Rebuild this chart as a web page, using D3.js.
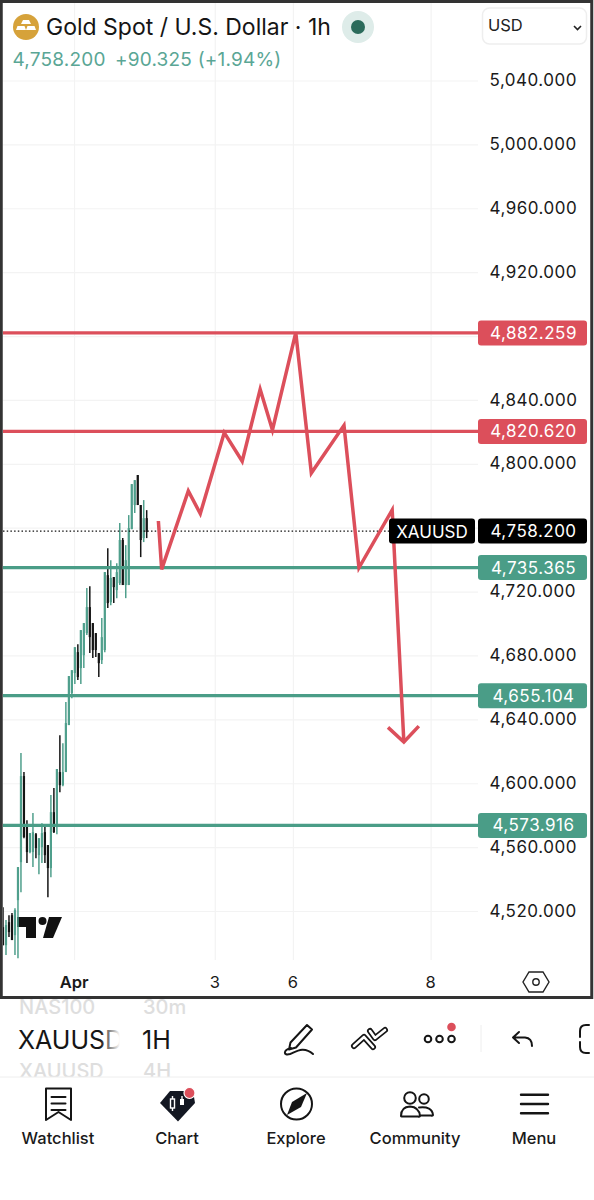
<!DOCTYPE html>
<html><head><meta charset="utf-8">
<script src="https://cdn.jsdelivr.net/npm/d3@7"></script>
<style>html,body{margin:0;background:#fff}svg{display:block}text{font-family:Inter,"Noto Sans",sans-serif}</style>
</head><body><div id="c"></div>
<script>
const opens=[4510.2,4498.9,4513.3,4517.7,4505.2,4527.1,4550.9,4604.8,4574.1,4557.2,4557.2,4568.4,4555.3,4560.3,4569.7,4561.6,4547.2,4582.2,4574.1,4607.3,4599.1,4607.3,4636.7,4656.7,4669.3,4682.4,4672.4,4680.5,4694.3,4710.6,4700.6,4694.3,4681.8,4677.4,4683.7,4730.6,4713.7,4729.4,4721.2,4725.6,4752.6,4724.4,4724.4,4759.4,4774.5,4793.3,4774.5,4753.8,4766.3];
const highs=[4522.7,4514.6,4517.7,4519.0,4522.1,4547.8,4619.2,4607.3,4577.2,4569.1,4581.6,4569.1,4565.9,4575.3,4573.5,4561.6,4592.9,4597.3,4609.2,4630.4,4625.4,4651.1,4667.4,4671.1,4685.5,4687.4,4696.2,4700.6,4722.5,4723.7,4700.6,4694.3,4681.8,4703.7,4732.5,4747.5,4740.0,4729.4,4738.1,4763.2,4753.8,4749.4,4768.2,4787.6,4790.1,4793.3,4774.5,4777.6,4771.3];
const lows=[4498.9,4492.7,4504.0,4502.1,4492.7,4490.8,4532.1,4565.9,4550.3,4556.5,4547.8,4553.4,4543.4,4550.3,4550.3,4529.0,4541.5,4569.1,4568.4,4594.7,4598.5,4607.3,4636.7,4653.6,4662.4,4664.9,4662.4,4672.4,4693.1,4681.8,4678.7,4679.3,4666.8,4674.9,4682.4,4710.0,4711.8,4713.1,4716.2,4724.4,4724.4,4716.2,4724.4,4759.4,4769.5,4774.5,4741.9,4751.3,4753.8];
const closes=[4498.9,4511.5,4507.1,4502.1,4520.9,4547.8,4604.8,4566.6,4557.2,4569.1,4569.7,4559.7,4565.9,4569.1,4555.3,4547.2,4582.2,4569.7,4609.2,4599.1,4607.3,4638.0,4667.4,4671.1,4685.5,4666.8,4696.2,4700.6,4710.6,4691.8,4683.7,4683.7,4675.5,4691.8,4732.5,4713.1,4728.8,4723.1,4732.5,4752.6,4724.4,4740.0,4760.1,4787.6,4790.1,4774.5,4752.6,4766.3,4757.6];
const priceTicks=[5040,5000,4960,4920,4880,4840,4800,4760,4720,4680,4640,4600,4560,4520];
const hiddenPriceLabels=[4880,4760];
const timeBars=[23.9,70.9,97,143];
const timeLabels=["Apr","3","6","8"];
const resistance=[4882.259,4820.62];
const support=[4735.365,4655.104,4573.916];
const lastPrice=4758.2;
const pathBars=[51.9,53,61.9,65.9,73.9,79.9,85.9,90,97.8,103,113.9,118.9,130,133.9];
const pathPrices=[4764.5,4734.2,4783.3,4769.1,4819.8,4801.9,4847,4821.5,4882.4,4794.5,4824.4,4735.2,4771.4,4626.1];
const arrowBars=[128.6,133.9,138.9];
const arrowPrices=[4635.3,4626.1,4636.1];
const navLabels=["Watchlist","Chart","Explore","Community","Menu"];

const GREEN="#4f9f8c",RED="#dc4f5b",TAG_GREEN="#4a9d87";
const svg=d3.select("#c").append("svg").attr("width",594).attr("height",1200);
const y=d3.scaleLinear().domain([5040,4520]).range([81,911.5]);
const x=d3.scaleLinear().domain([0,48]).range([3,146.7]);
const fmt=d3.format(",.3f");

svg.append("defs").append("clipPath").attr("id","plot").append("rect").attr("x",3).attr("y",3).attr("width",588).attr("height",994);
const grad=svg.select("defs").append("linearGradient").attr("id","fade");
grad.append("stop").attr("offset",0).attr("stop-color","#fff").attr("stop-opacity",0);
grad.append("stop").attr("offset",1).attr("stop-color","#fff").attr("stop-opacity",1);

const plot=svg.append("g").attr("clip-path","url(#plot)");
// grid
plot.append("g").selectAll("line").data(priceTicks).join("line")
 .attr("x1",3).attr("x2",478).attr("y1",d=>y(d)).attr("y2",d=>y(d)).attr("stroke","#f3f3f3").attr("stroke-width",1.2);
plot.append("g").selectAll("line").data(timeBars).join("line")
 .attr("x1",d=>x(d)).attr("x2",d=>x(d)).attr("y1",3).attr("y2",960).attr("stroke","#f3f3f3").attr("stroke-width",1.2);

// TradingView mark
const tv=plot.append("g").attr("fill","#111");
tv.append("path").attr("d","M17 917H36V938H26V927H17Z");
tv.append("circle").attr("cx",42.5).attr("cy",921).attr("r",4);
tv.append("path").attr("d","M49 917H62L53 938H43Z");

// candles
const candles=opens.map((o,i)=>({i,o,h:highs[i],l:lows[i],c:closes[i]}));
const cg=plot.append("g");
cg.selectAll("line").data(candles).join("line")
 .attr("x1",d=>x(d.i)).attr("x2",d=>x(d.i)).attr("y1",d=>y(d.h)).attr("y2",d=>y(d.l))
 .attr("stroke",d=>d.c>=d.o?GREEN:"#151515").attr("stroke-width",1.5);
cg.selectAll("rect").data(candles).join("rect")
 .attr("x",d=>x(d.i)-1.1).attr("width",2.2)
 .attr("y",d=>y(Math.max(d.o,d.c))).attr("height",d=>Math.max(1,y(Math.min(d.o,d.c))-y(Math.max(d.o,d.c))))
 .attr("fill",d=>d.c>=d.o?GREEN:"#151515");

// last price dotted line
plot.append("line").attr("x1",3).attr("x2",390).attr("y1",y(lastPrice)).attr("y2",y(lastPrice))
 .attr("stroke","#111").attr("stroke-width",1.3).attr("stroke-dasharray","1.5 2.2");

// levels
plot.append("g").selectAll("line").data(resistance).join("line")
 .attr("x1",3).attr("x2",478).attr("y1",d=>y(d)).attr("y2",d=>y(d)).attr("stroke",RED).attr("stroke-width",3.2);
plot.append("g").selectAll("line").data(support).join("line")
 .attr("x1",3).attr("x2",478).attr("y1",d=>y(d)).attr("y2",d=>y(d)).attr("stroke",TAG_GREEN).attr("stroke-width",3.2);

// drawn path
const ln=d3.line().x(d=>x(d[0])).y(d=>y(d[1]));
plot.append("path").attr("d",ln(pathBars.map((b,i)=>[b,pathPrices[i]]))).attr("fill","none").attr("stroke",RED).attr("stroke-width",3.5).attr("stroke-linejoin","miter");
plot.append("path").attr("d",ln(arrowBars.map((b,i)=>[b,arrowPrices[i]]))).attr("fill","none").attr("stroke",RED).attr("stroke-width",3.5);

// price axis
const yAxis=d3.axisRight(y).tickValues(priceTicks.filter(d=>!hiddenPriceLabels.includes(d))).tickSize(0).tickPadding(0).tickFormat(fmt);
const ya=svg.append("g").attr("transform","translate(489.5,0)").call(yAxis);
ya.select(".domain").remove();
ya.selectAll("text").attr("font-size",17).attr("fill","#1a1a1a").attr("dy","0.27em").style("letter-spacing","0.5px").style("font-family","Inter");

// time axis
const xAxis=d3.axisBottom(x).tickValues(timeBars).tickSize(0).tickPadding(0).tickFormat((d,i)=>timeLabels[i]);
const xa=svg.append("g").attr("transform","translate(-1,973)").call(xAxis);
xa.select(".domain").remove();
xa.selectAll("text").attr("font-size",16.5).attr("fill","#1a1a1a").attr("dy","0.9em").attr("y",0).style("font-family","Inter").attr("font-weight",(d,i)=>i==0?600:400);

// tags
function tag(v,fill){
 const g=svg.append("g");
 g.append("rect").attr("x",478).attr("y",y(v)-12.5).attr("width",109).attr("height",25).attr("rx",3).attr("fill",fill);
 g.append("text").attr("x",533.5).attr("y",y(v)+6).attr("text-anchor","middle").attr("fill","#fff").attr("font-size",17).style("letter-spacing","0.5px").text(fmt(v));
}
resistance.forEach(v=>tag(v,RED));
support.forEach(v=>tag(v,TAG_GREEN));
tag(lastPrice,"#000");
svg.append("rect").attr("x",389).attr("y",y(lastPrice)-12.5).attr("width",86).attr("height",25).attr("rx",3).attr("fill","#000");
svg.append("text").attr("x",432).attr("y",y(lastPrice)+6.5).attr("text-anchor","middle").attr("fill","#fff").attr("font-size",17).text("XAUUSD");

// header
svg.append("circle").attr("cx",26).attr("cy",27).attr("r",13).attr("fill","#d6a23a");
svg.append("path").attr("d","M23 20h6l2 4H21ZM17.5 26h7l1.5 4H16ZM27.5 26h7l1.5 4H26Z").attr("fill","#fff");
svg.append("text").attr("x",46).attr("y",34.5).attr("font-size",23).attr("fill","#151515").text("Gold Spot / U.S. Dollar · 1h");
svg.append("circle").attr("cx",358).attr("cy",27).attr("r",16).attr("fill","#deece9");
svg.append("circle").attr("cx",358).attr("cy",27).attr("r",7).attr("fill","#2b6b5b");
svg.append("rect").attr("x",482.5).attr("y",8).attr("width",104).attr("height",36).attr("rx",7).attr("fill","#fff").attr("stroke","#eeeeee").attr("stroke-width",1.5);
svg.append("text").attr("x",488).attr("y",31).attr("font-size",16.5).attr("fill","#222").text("USD");
svg.append("path").attr("d","M574 26l3.5 3.5L581 26").attr("fill","none").attr("stroke","#222").attr("stroke-width",1.6);
svg.append("text").attr("x",12.5).attr("y",66).attr("font-size",19).attr("fill","#5aa695").style("letter-spacing","0.2px").text("4,758.200");
svg.append("text").attr("x",115).attr("y",66).attr("font-size",19).attr("fill","#5aa695").style("letter-spacing","0.2px").text("+90.325 (+1.94%)");

// hexagon settings icon
svg.append("path").attr("d","M529 972h14l6 10-6 10h-14l-6-10Z").attr("fill","none").attr("stroke","#222").attr("stroke-width",1.4);
svg.append("circle").attr("cx",536).attr("cy",982).attr("r",3.2).attr("fill","none").attr("stroke","#222").attr("stroke-width",1.4);

// frame
svg.append("rect").attr("x",1.25).attr("y",1.5).attr("width",590.5).attr("height",996).attr("fill","none").attr("stroke","#333").attr("stroke-width",3);

// symbol picker
const pick=svg.append("g");
pick.append("text").attr("x",19).attr("y",1014).attr("font-size",20).attr("font-weight",500).attr("fill","#dedede").text("NAS100");
pick.append("text").attr("x",143).attr("y",1014).attr("font-size",20).attr("font-weight",500).attr("fill","#dedede").text("30m");
pick.append("text").attr("x",18).attr("y",1049).attr("font-size",25).attr("fill","#151515").text("XAUUSD");
pick.append("text").attr("x",142).attr("y",1049).attr("font-size",25).attr("fill","#151515").text("1H");
pick.append("text").attr("x",19).attr("y",1078).attr("font-size",20).attr("font-weight",500).attr("fill","#dedede").text("XAUUSD");
pick.append("text").attr("x",143).attr("y",1078).attr("font-size",20).attr("font-weight",500).attr("fill","#dedede").text("4H");
svg.append("rect").attr("x",100).attr("y",1000).attr("width",20).attr("height",77).attr("fill","url(#fade)");
svg.append("rect").attr("x",120).attr("y",1000).attr("width",14).attr("height",77).attr("fill","#fff");
svg.append("rect").attr("x",0).attr("y",1077).attr("width",594).attr("height",123).attr("fill","#fff");
svg.append("line").attr("x1",0).attr("x2",594).attr("y1",1077).attr("y2",1077).attr("stroke","#eeeeee");

// toolbar icons
const ic=svg.append("g").attr("fill","none").attr("stroke","#151515").attr("stroke-width",2).attr("stroke-linecap","round").attr("stroke-linejoin","round");
ic.append("path").attr("d","M307 1025l5 4.5-16 18-7 2 1.5-7ZM291 1048C283 1050 283 1056 290 1054C297 1051 304 1046 313 1054");
ic.append("path").attr("d","M354 1046L364 1037L373 1047M370 1031L375 1038L385 1030").attr("stroke-width",6);
ic.append("path").attr("d","M354 1046L364 1037L373 1047M370 1031L375 1038L385 1030").attr("stroke","#fff").attr("stroke-width",2.6);
[428,439.5,451.5].forEach(cx=>ic.append("circle").attr("cx",cx).attr("cy",1039).attr("r",3.3));
svg.append("circle").attr("cx",451.5).attr("cy",1027).attr("r",4.3).attr("fill",RED);
svg.append("line").attr("x1",481).attr("x2",481).attr("y1",1025).attr("y2",1052).attr("stroke","#eee");
ic.append("path").attr("d","M519 1032L513 1037.5L519 1043M513 1037.5H525Q532 1038 532 1046");
ic.append("path").attr("d","M589 1025H586Q580 1025 580 1031V1037M580 1042V1047Q580 1053 586 1053H589");

// nav icons
ic.append("path").attr("d","M46 1088.5H71V1120L58.5 1112L46 1120ZM51.5 1097H65.5M51.5 1103.5H65.5M51.5 1110H65.5");
svg.append("path").attr("d","M170 1091H193L195 1103L178 1121.5L160 1103Z").attr("fill","#131722");
svg.append("path").attr("d","M172.5 1096v3M172.5 1108v3M182 1096v3").attr("stroke","#fff").attr("stroke-width",1.4);
svg.append("rect").attr("x",170.5).attr("y",1099).attr("width",4).attr("height",9).attr("fill","#131722").attr("stroke","#fff").attr("stroke-width",1.4);
svg.append("rect").attr("x",180).attr("y",1099).attr("width",4).attr("height",6).attr("fill","#fff");
svg.append("circle").attr("cx",189.5).attr("cy",1093).attr("r",5.5).attr("fill",RED).attr("stroke","#fff").attr("stroke-width",1.2);
ic.append("circle").attr("cx",296.5).attr("cy",1104).attr("r",15.5);
svg.append("path").attr("d","M307 1093L301 1107L287 1115L292 1102Z").attr("fill","#151515");
ic.append("circle").attr("cx",410).attr("cy",1098).attr("r",5.8);
ic.append("circle").attr("cx",424).attr("cy",1099).attr("r",4.8);
ic.append("path").attr("d","M401 1116Q401 1107 410 1106.5Q419 1107 420 1116Q420 1117 418 1116.5H403Q401 1116.5 401 1116ZM419 1107.5Q432 1106 433 1115Q433 1116 431 1115.5H420");
ic.append("path").attr("d","M521 1094.7H548M521 1104H548M521 1113.3H548").attr("stroke-width",2.4);

// nav labels
const navX=d3.scalePoint().domain(navLabels).range([58,534]);
svg.append("g").selectAll("text").data(navLabels).join("text")
 .attr("x",d=>navX(d)).attr("y",1143.5).attr("text-anchor","middle").attr("font-size",16.5).attr("font-weight",550).attr("fill","#1a1a1a").text(d=>d);
</script></body></html>
